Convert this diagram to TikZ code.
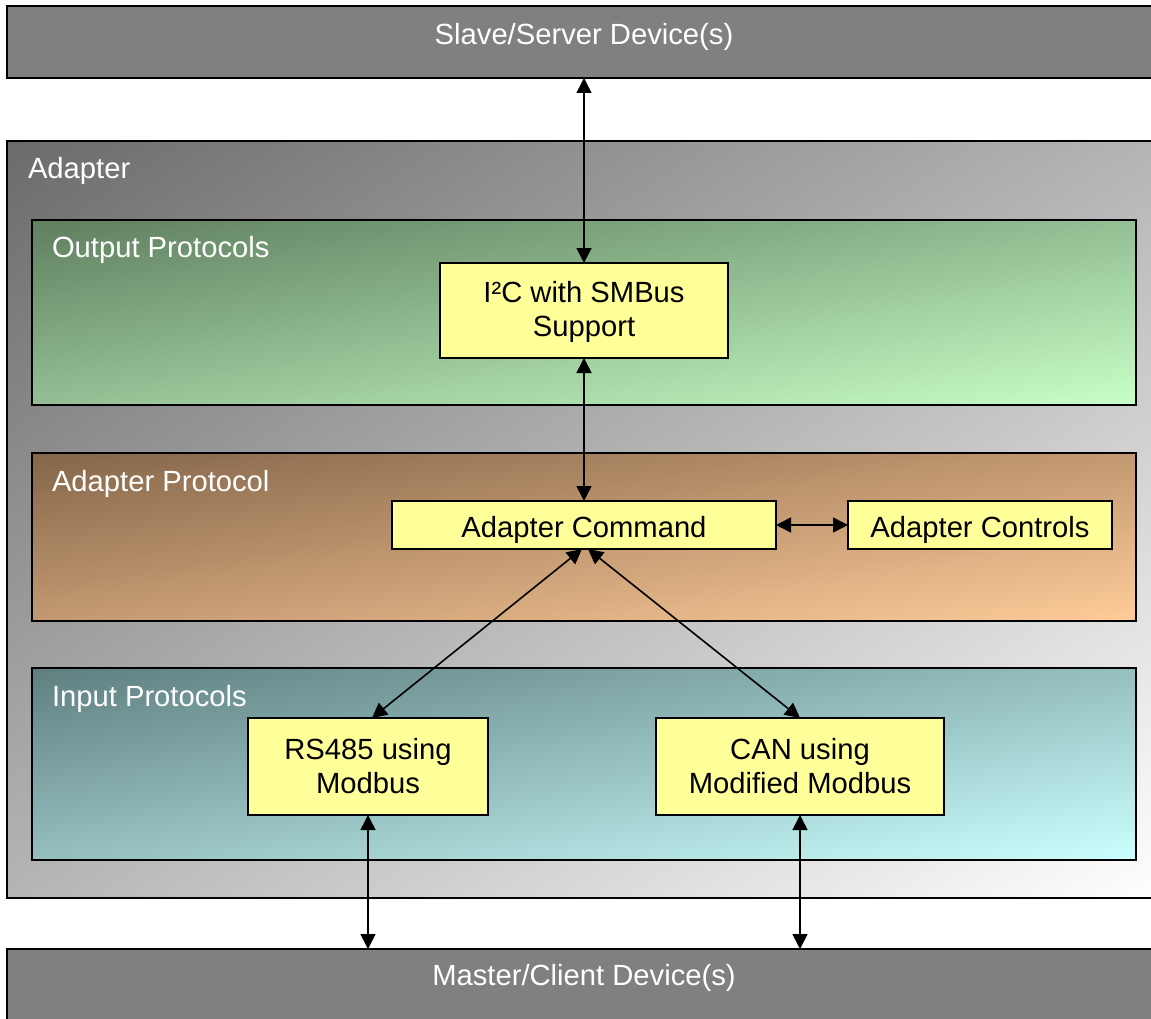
\documentclass[tikz,border=0pt]{standalone}
\usepackage{fontspec}
\setmainfont{Liberation Sans}
\usetikzlibrary{arrows.meta}
\definecolor{devgray}{HTML}{808080}
\definecolor{boxyellow}{HTML}{FFFF99}
% diagonal gradients: top-left -> bottom-right, normalised to the box
\pgfdeclarefunctionalshading{adshade}{\pgfpointorigin}{\pgfpoint{100bp}{100bp}}{}{
  sub 50 add 100 div dup 0 lt {pop 0} if dup 1 gt {pop 1} if
  dup 0.58 mul 0.42 add exch dup 0.58 mul 0.42 add exch 0.58 mul 0.42 add }
\pgfdeclarefunctionalshading{outshade}{\pgfpointorigin}{\pgfpoint{100bp}{100bp}}{}{
  sub 50 add 100 div dup 0 lt {pop 0} if dup 1 gt {pop 1} if
  dup 0.411 mul 0.373 add exch dup 0.502 mul 0.498 add exch 0.411 mul 0.373 add }
\pgfdeclarefunctionalshading{apshade}{\pgfpointorigin}{\pgfpoint{100bp}{100bp}}{}{
  sub 50 add 100 div dup 0 lt {pop 0} if dup 1 gt {pop 1} if
  dup 0.478 mul 0.522 add exch dup 0.4 mul 0.4 add exch 0.31 mul 0.29 add }
\pgfdeclarefunctionalshading{inshade}{\pgfpointorigin}{\pgfpoint{100bp}{100bp}}{}{
  sub 50 add 100 div dup 0 lt {pop 0} if dup 1 gt {pop 1} if
  dup 0.427 mul 0.373 add exch dup 0.502 mul 0.498 add exch 0.502 mul 0.498 add }
\begin{document}
\begin{tikzpicture}[x=1pt,y=-1pt,
  every node/.style={font=\fontsize{29.2}{34}\selectfont, inner sep=0pt, outer sep=0pt},
  device/.style={draw=black, line width=1.6pt, fill=devgray, rectangle},
  panel/.style={draw=black, line width=1.6pt, rectangle, shade, shading=#1, shading angle=0},
  ybox/.style={draw=black, line width=1.6pt, fill=boxyellow, rectangle, align=center},
  whitelabel/.style={text=white, anchor=base west},
  devlabel/.style={text=white},
  link/.style={line width=1.6pt, {Triangle[length=15pt,width=15pt]}-{Triangle[length=15pt,width=15pt]}}
]
\clip (0,0) rectangle (1151,1019);
\fill[white] (0,0) rectangle (1151,1019);

% devices
\node[device, minimum width=1154pt, minimum height=72pt] (slave) at (584,42) {};
\node[devlabel] (slavetxt) at (584,36.5) {Slave/Server Device(s)};
\node[device, minimum width=1154pt, minimum height=72pt] (master) at (584,985) {};
\node[devlabel] (mastertxt) at (584,977.5) {Master/Client Device(s)};

% adapter and panels
\node[panel=adshade, minimum width=1154pt, minimum height=757pt] (adapter) at (584,519.5) {};
\node[whitelabel] (adaptertxt) at (28,179) {Adapter};

\node[panel=outshade, minimum width=1104pt, minimum height=185pt] (outp) at (584,312.5) {};
\node[whitelabel] (outptxt) at (52,257.5) {Output Protocols};

\node[panel=apshade, minimum width=1104pt, minimum height=168pt] (adp) at (584,537) {};
\node[whitelabel] (adptxt) at (52,491.5) {Adapter Protocol};

\node[panel=inshade, minimum width=1104pt, minimum height=192pt] (inp) at (584,764) {};
\node[whitelabel] (inptxt) at (52,706.5) {Input Protocols};

% inner boxes
\node[ybox, minimum width=288pt, minimum height=95pt] (i2c) at (584,310.5) {\raisebox{-2pt}[\height][\depth]{\begin{tabular}{@{}c@{}}I²C with SMBus\\Support\end{tabular}}};
\node[ybox, minimum width=384pt, minimum height=48pt] (cmd) at (584,525) {\raisebox{-5pt}[\height][\depth]{Adapter Command}};
\node[ybox, minimum width=264pt, minimum height=48pt] (ctl) at (980,525) {\raisebox{-5pt}[\height][\depth]{Adapter Controls}};
\node[ybox, minimum width=240pt, minimum height=97pt] (rs) at (368,766.5) {RS485 using\\Modbus};
\node[ybox, minimum width=288pt, minimum height=97pt] (can) at (800,766.5) {CAN using\\Modified Modbus};

% connectors
\draw[link] (slave.south -| i2c.north) -- (i2c.north);
\draw[link] (i2c.south) -- (cmd.north);
\draw[link] (cmd.east) -- (ctl.west);
\draw[link] ([xshift=-2pt]cmd.south) -- ([xshift=4pt]rs.north);
\draw[link] ([xshift=4pt]cmd.south) -- (can.north);
\draw[link] (rs.south) -- (rs.south |- master.north);
\draw[link] (can.south) -- (can.south |- master.north);
\end{tikzpicture}
\end{document}
